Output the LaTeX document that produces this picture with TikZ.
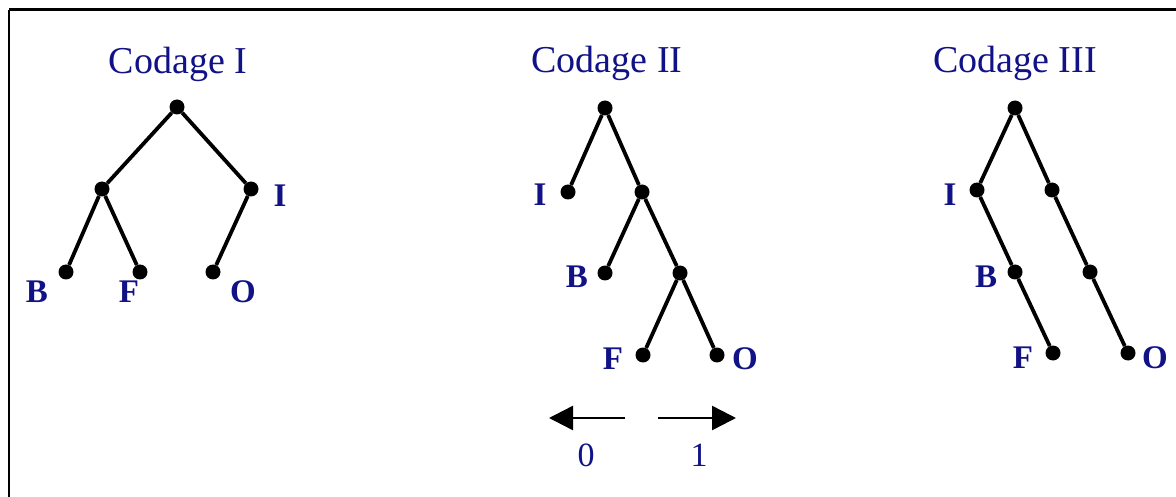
\documentclass[tikz,border=0pt]{standalone}
\usepackage{fontspec}
\setmainfont{Liberation Serif}
\usetikzlibrary{arrows.meta}
\definecolor{labblue}{RGB}{18,18,135}
\tikzset{
  dot/.style={circle,fill=black,inner sep=0pt,minimum size=15pt},
  edge/.style={line width=3.8pt},
  lab/.style={text=labblue,font=\fontsize{33}{33}\selectfont\bfseries,inner sep=0pt},
  digit/.style={text=labblue,font=\fontsize{34}{34}\selectfont,inner sep=0pt},
  ttl/.style={text=labblue,font=\fontsize{38}{38}\selectfont,inner sep=0pt,anchor=base},
  dirarrow/.style={line width=2.5pt,-{Triangle[length=24pt,width=24pt]}},
}
\begin{document}
\begin{tikzpicture}[x=1pt,y=-1pt]
\useasboundingbox (0,0) rectangle (1176,497);
\fill[white] (0,0) rectangle (1176,497);
% frame
\draw[line width=3pt] (9,10) -- (1176,10);
\draw[line width=2.5pt] (9,10) -- (9,497);

% ---- Codage I
\node[ttl] (t1) at (178,74) {Codage I};
\node[dot] (a0) at (177,107) {};
\node[dot] (a1) at (102,189) {};
\node[dot] (a2) at (251,189) {};
\node[dot] (a3) at (66,272) {};
\node[dot] (a4) at (140,272) {};
\node[dot] (a5) at (213,272) {};
\draw[edge] (a0) -- (a1);
\draw[edge] (a0) -- (a2);
\draw[edge] (a1) -- (a3);
\draw[edge] (a1) -- (a4);
\draw[edge] (a2) -- (a5);
\node[lab] (lI1) at (280,196) {I};
\node[lab] (lB1) at (37,292) {B};
\node[lab] (lF1) at (129,292) {F};
\node[lab] (lO1) at (243,292) {O};

% ---- Codage II
\node[ttl] (t2) at (607,73) {Codage II};
\node[dot] (b0) at (605,108) {};
\node[dot] (b1) at (568,192) {};
\node[dot] (b2) at (642,192) {};
\node[dot] (b3) at (605,273) {};
\node[dot] (b4) at (680,273) {};
\node[dot] (b5) at (643,355) {};
\node[dot] (b6) at (717,355) {};
\draw[edge] (b0) -- (b1);
\draw[edge] (b0) -- (b2);
\draw[edge] (b2) -- (b3);
\draw[edge] (b2) -- (b4);
\draw[edge] (b4) -- (b5);
\draw[edge] (b4) -- (b6);
\node[lab] (lI2) at (540,195) {I};
\node[lab] (lB2) at (577,277) {B};
\node[lab] (lF2) at (613,359) {F};
\node[lab] (lO2) at (745,359) {O};

% direction arrows
\coordinate (l0) at (625,418);
\coordinate (l1) at (549,418);
\coordinate (r0) at (658,418);
\coordinate (r1) at (736,418);
\draw[dirarrow] (l0) -- (l1);
\draw[dirarrow] (r0) -- (r1);
\node[digit] (d0) at (586,455) {0};
\node[digit] (d1) at (699,455) {1};

% ---- Codage III
\node[ttl] (t3) at (1015,73) {Codage III};
\node[dot] (c0) at (1015,108) {};
\node[dot] (c1) at (977,190) {};
\node[dot] (c2) at (1052,190) {};
\node[dot] (c3) at (1015,272) {};
\node[dot] (c4) at (1090,272) {};
\node[dot] (c5) at (1053,353) {};
\node[dot] (c6) at (1128,353) {};
\draw[edge] (c0) -- (c1);
\draw[edge] (c0) -- (c2);
\draw[edge] (c1) -- (c3);
\draw[edge] (c3) -- (c5);
\draw[edge] (c2) -- (c4);
\draw[edge] (c4) -- (c6);
\node[lab] (lI3) at (950,195) {I};
\node[lab] (lB3) at (986,277) {B};
\node[lab] (lF3) at (1023,358) {F};
\node[lab] (lO3) at (1155,358) {O};
\end{tikzpicture}
\end{document}
